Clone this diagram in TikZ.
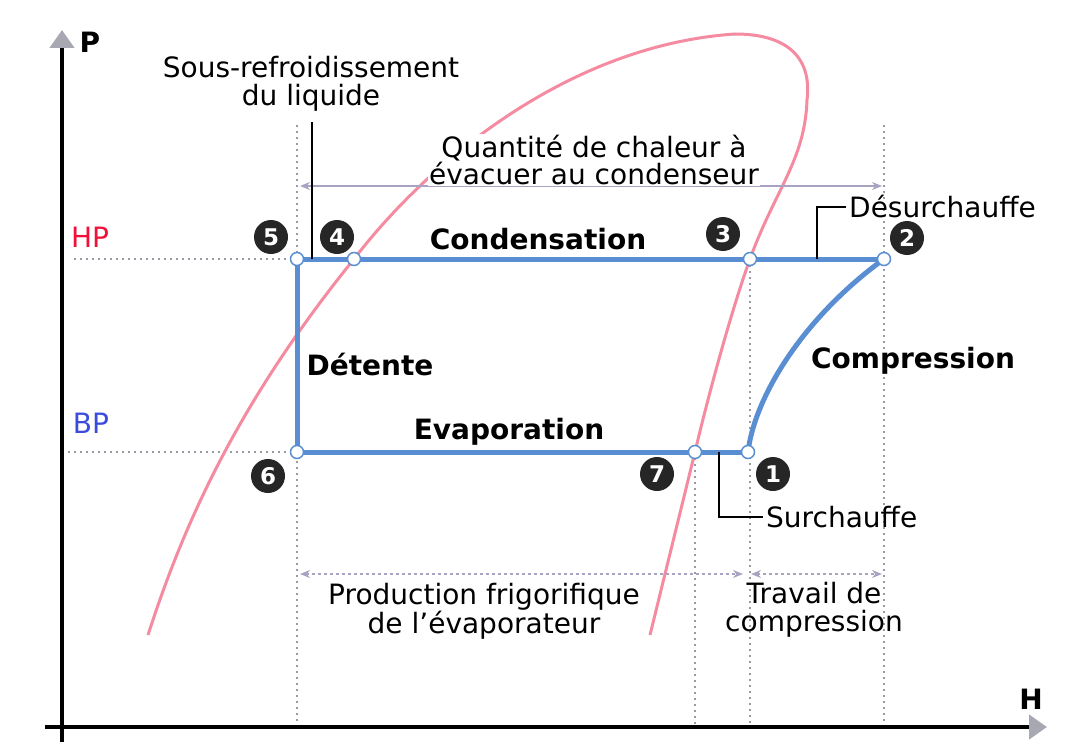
\documentclass[tikz,border=0pt]{standalone}
\usepackage{fontspec}
\setmainfont{DejaVu Sans}
\usetikzlibrary{arrows.meta, positioning}
\definecolor{dcycle}{HTML}{5A8ED2}
\definecolor{dsat}{HTML}{F48BA0}
\definecolor{dguide}{HTML}{9A9AA4}
\definecolor{ddim}{HTML}{A9A2C2}
\definecolor{dhp}{HTML}{F0103A}
\definecolor{dbp}{HTML}{3A4CE0}
\definecolor{dtip}{HTML}{A8A8B2}
\newcommand{\txtsize}{\fontsize{28}{28}\selectfont}
\newcommand{\numsize}{\fontsize{23}{23}\selectfont}
\tikzset{
  axisline/.style={line width=4.5pt, -{Triangle[length=18pt, width=24pt, color=dtip]}},
  cyc/.style={dcycle, line width=5pt},
  sat/.style={dsat, line width=3pt},
  guide/.style={dguide, line width=1.5pt, dash pattern=on 2pt off 4pt},
  brk/.style={black, line width=2pt},
  dim/.style={ddim, line width=1.3pt, {Stealth[length=10pt, width=8pt]}-{Stealth[length=10pt, width=8pt]}},
  pt/.style={circle, draw=dcycle, fill=white, line width=1.5pt, minimum size=13pt, inner sep=0pt},
  badge/.style={circle, fill=black!85, text=white, font=\numsize\bfseries, minimum size=34pt, inner sep=0pt},
  lbl/.style={font=\txtsize, inner sep=3pt, align=center},
  blbl/.style={font=\txtsize\bfseries, inner sep=3pt},
}

\begin{document}
\begin{tikzpicture}[x=1pt, y=-1pt]
  \useasboundingbox (0,0) rectangle (1082,752);

  % cycle points
  \coordinate (p5) at (297,259);
  \coordinate (p4) at (354,259);
  \coordinate (p3) at (750,259);
  \coordinate (p2) at (884,259);
  \coordinate (p6) at (297,452);
  \coordinate (p7) at (695,452);
  \coordinate (p1) at (748,452);
  \coordinate (top) at (0,125);
  \coordinate (base) at (0,727);

  % guides
  \coordinate (hp0) at (74,259);
  \coordinate (bp0) at (62,452);
  \draw[guide] (hp0) -- (p5);
  \draw[guide] (bp0) -- (p6);
  \draw[guide] (p5 |- top) -- (p5 |- base);
  \draw[guide] (p2 |- top) -- (p2 |- base);
  \draw[guide] (p3) -- (p3 |- base);
  \draw[guide] (p7) -- (p7 |- base);

  % axes
  \coordinate (y0) at (62,742);
  \coordinate (y1) at (62,30);
  \coordinate (x0) at (45,727);
  \coordinate (x1) at (1047,727);
  \draw[axisline] (y0) -- (y1);
  \draw[axisline] (x0) -- (x1);
  \node[font=\txtsize\bfseries] (lp) at (90,42) {P};
  \node[font=\txtsize\bfseries] (lh) at (1031,699) {H};
  \node[font=\txtsize, text=dhp] (hp) at (90,237) {HP};
  \node[font=\txtsize, text=dbp] (bp) at (91,423) {BP};

  % saturation curve
  \coordinate (s0) at (148,635);
  \coordinate (stop) at (735,34);
  \coordinate (sright) at (807,100);
  \coordinate (s9) at (650,635);
  \draw[sat] (s0) .. controls (185,520) and (240,400) .. (p4)
    .. controls (430,160) and (570,45) .. (stop)
    .. controls (790,34) and (812,60) .. (sright)
    .. controls (805,160) and (775,190) .. (p3)
    .. controls (735,300) and (712,380) .. (p7) -- (s9);

  % dimension arrows
  \coordinate (q1) at (300,186);
  \coordinate (q2) at (882,186);
  \coordinate (f1) at (300,574);
  \coordinate (f2) at (743,574);
  \coordinate (w1) at (751,574);
  \coordinate (w2) at (882,574);
  \draw[dim] (q1) -- (q2);
  \draw[dim, dashed] (f1) -- (f2);
  \draw[dim, dashed] (w1) -- (w2);

  % cycle
  \draw[cyc] (p5) -- (p2);
  \draw[cyc] (p6) -- (p1);
  \draw[cyc] (p5) -- (p6);
  \draw[cyc] (p1) .. controls (754,400) and (800,320) .. (p2);
  \foreach \p in {p1,p2,p3,p4,p5,p6,p7}
    \node[pt] at (\p) {};

  % numbers
  \node[badge] (n5) at (271,237) {5};
  \node[badge] (n4) at (337,237) {4};
  \node[badge] (n3) at (723,234) {3};
  \node[badge] (n2) at (907,238) {2};
  \node[badge] (n6) at (268,476) {6};
  \node[badge] (n7) at (657,474) {7};
  \node[badge] (n1) at (773,474) {1};

  % stage names
  \node[blbl] (cond) at (538,239) {Condensation};
  \node[blbl] (det) at (370,364) {Détente};
  \node[blbl] (evap) at (509,432) {Evaporation};
  \node[blbl] (comp) at (913,361) {Compression};

  % notes
  \node[lbl] (sousref) at (311,84) {Sous-refroidissement\\du liquide};
  \node[lbl, fill=white, inner sep=1pt] (qchal) at (594,160) {Quantité de chaleur à\\évacuer au condenseur};
  \node[lbl] (prod) at (484,611) {Production frigorifique\\de l'évaporateur};
  \node[lbl] (trav) at (814,610) {Travail de\\compression};
  \node[lbl, anchor=west] (desur) at (846,207) {Désurchauffe};
  \node[lbl, anchor=west] (surch) at (763,517) {Surchauffe};

  % brackets
  \coordinate (sr0) at (312,259);
  \coordinate (sr1) at (312,122);
  \draw[brk] (sr0) -- (sr1);
  \coordinate (ds0) at (817,259);
  \draw[brk] (ds0) |- (desur.west);
  \coordinate (su0) at (719,452);
  \draw[brk] (su0) |- (surch.west);
\end{tikzpicture}
\end{document}
